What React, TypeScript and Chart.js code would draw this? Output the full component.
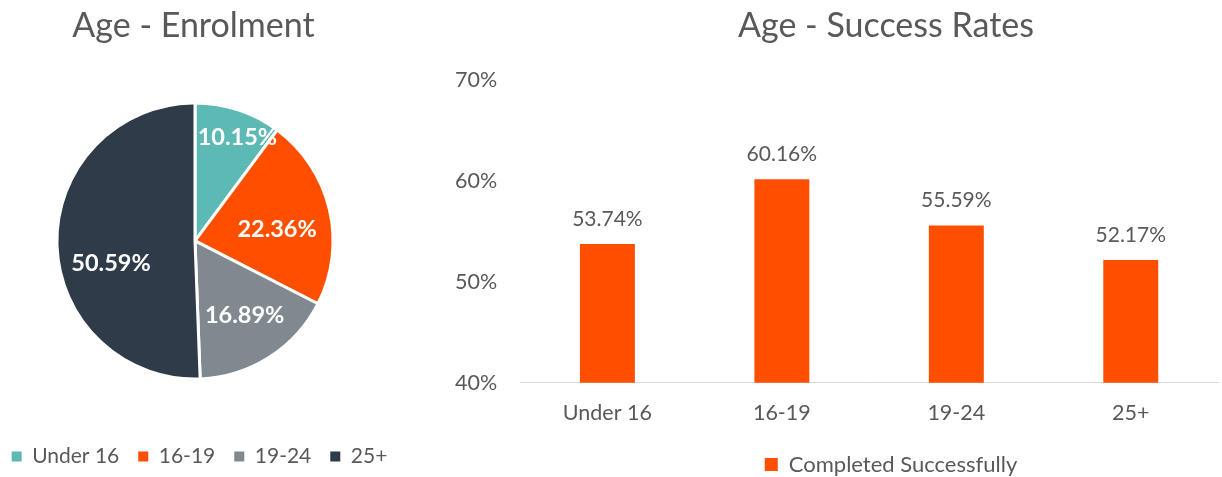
import React, { useEffect, useRef } from 'react';
import { Chart, registerables } from 'chart.js';

Chart.register(...registerables);

// ---- data ----
const ageGroups = ['Under 16', '16-19', '19-24', '25+'];
const enrolmentShare = [10.15, 22.36, 16.89, 50.59];
const successRates = [53.74, 60.16, 55.59, 52.17];
const successTicks = [40, 50, 60, 70];
const pieTitle = 'Age - Enrolment';
const barTitle = 'Age - Success Rates';
const barSeriesLabel = 'Completed Successfully';

// ---- style ----
const FONT = 'Lato, "Open Sans", sans-serif';
const textColor = '#595959';
const pieColors = ['#5CB9B3', '#FE4F00', '#7F898F', '#2F3B48'];
const barColor = '#FE4F00';
const pieLabelRadius = [0.81, 0.6, 0.65, 0.63];
const pieLabelAngleShift = [4, 5.5, -1, -14];

Chart.defaults.font.family = FONT;

const centerBoxesPlugin = {
  id: 'centerBoxes',
  afterLayout(chart: any, _args: any, opts: any) {
    const move = (box: any, cx: number | undefined) => {
      if (!box || cx === undefined) return;
      const w = box.right - box.left;
      box.left = cx - w / 2;
      box.right = cx + w / 2;
    };
    move(chart.titleBlock, opts.titleX);
    move(chart.legend, opts.legendX);
  },
};

const pieLabelPlugin = {
  id: 'pieLabels',
  afterDatasetsDraw(chart: any) {
    const meta = chart.getDatasetMeta(0);
    const ctx = chart.ctx;
    ctx.save();
    ctx.font = `bold 23.5px ${FONT}`;
    ctx.fillStyle = '#ffffff';
    ctx.textAlign = 'center';
    ctx.textBaseline = 'middle';
    meta.data.forEach((arc: any, i: number) => {
      const { x, y, startAngle, endAngle, outerRadius } = arc.getProps(
        ['x', 'y', 'startAngle', 'endAngle', 'outerRadius'],
        true
      );
      const mid = (startAngle + endAngle) / 2 + (pieLabelAngleShift[i] * Math.PI) / 180;
      const r = outerRadius * pieLabelRadius[i];
      ctx.fillText(enrolmentShare[i].toFixed(2) + '%', x + Math.cos(mid) * r, y + Math.sin(mid) * r);
    });
    ctx.restore();
  },
};

const barValuePlugin = {
  id: 'barValues',
  afterDatasetsDraw(chart: any) {
    const meta = chart.getDatasetMeta(0);
    const ctx = chart.ctx;
    ctx.save();
    ctx.font = `21px ${FONT}`;
    ctx.fillStyle = textColor;
    ctx.textAlign = 'center';
    ctx.textBaseline = 'middle';
    meta.data.forEach((bar: any, i: number) => {
      ctx.fillText(successRates[i].toFixed(2) + '%', bar.x, bar.y - 25);
    });
    ctx.restore();
  },
};

function PieChart() {
  const ref = useRef<HTMLCanvasElement>(null);
  useEffect(() => {
    const chart = new Chart(ref.current as HTMLCanvasElement, {
      type: 'pie',
      data: {
        labels: ageGroups,
        datasets: [
          {
            data: enrolmentShare,
            backgroundColor: pieColors,
            borderColor: '#ffffff',
            borderWidth: 3,
          },
        ],
      },
      options: {
        responsive: false,
        animation: false,
        layout: { padding: { bottom: 0 } },
        plugins: {
          title: {
            display: true,
            text: pieTitle,
            color: textColor,
            font: { family: FONT, size: 34, weight: 'normal' },
            padding: { top: 5.6, bottom: 55 },
          },
          legend: {
            position: 'bottom',
            labels: {
              boxWidth: 10,
              boxHeight: 10,
              color: textColor,
              font: { family: FONT, size: 21 },
              padding: 19,
              generateLabels: (c: any) =>
                (Chart as any).overrides.pie.plugins.legend.labels
                  .generateLabels(c)
                  .map((l: any) => ({ ...l, lineWidth: 0, strokeStyle: 'rgba(0,0,0,0)' })),
            },
            title: { display: true, text: '', font: { size: 12 }, padding: { top: 32.1, bottom: 0 } },
          },
          tooltip: { enabled: false },
          centerBoxes: { titleX: 238.5, legendX: 244.5 },
        } as any,
      },
      plugins: [pieLabelPlugin, centerBoxesPlugin],
    });
    return () => chart.destroy();
  }, []);
  return (
    <canvas
      ref={ref}
      width={480}
      height={477}
      style={{ position: 'absolute', left: -45, top: 0, width: 480, height: 477 }}
    />
  );
}

function BarChart() {
  const ref = useRef<HTMLCanvasElement>(null);
  useEffect(() => {
    const chart = new Chart(ref.current as HTMLCanvasElement, {
      type: 'bar',
      data: {
        labels: ageGroups,
        datasets: [
          {
            label: barSeriesLabel,
            data: successRates,
            backgroundColor: barColor,
            barPercentage: 0.315,
            categoryPercentage: 1,
          },
        ],
      },
      options: {
        responsive: false,
        animation: false,
        layout: { padding: { left: 12, right: 4, bottom: 4.5 } },
        scales: {
          x: {
            grid: { display: false, drawTicks: false },
            border: { display: true, color: '#D9D9D9', width: 1 },
            ticks: { color: textColor, font: { family: FONT, size: 21.5 }, padding: 17 },
          },
          y: {
            min: 40,
            max: 70,
            grid: { display: false, drawTicks: false },
            border: { display: false },
            afterBuildTicks: (s: any) => {
              s.ticks = successTicks.map((v) => ({ value: v }));
            },
            ticks: {
              color: textColor,
              font: { family: FONT, size: 21.5 },
              padding: 23,
              callback: (v: any) => v + '%',
            },
          },
        },
        plugins: {
          title: {
            display: true,
            text: barTitle,
            color: textColor,
            font: { family: FONT, size: 34, weight: 'normal' },
            padding: { top: 5.6, bottom: 33.6 },
          },
          legend: {
            position: 'bottom',
            labels: {
              boxWidth: 13,
              boxHeight: 13,
              color: textColor,
              font: { family: FONT, size: 22 },
              padding: 11,
            },
          },
          tooltip: { enabled: false },
          centerBoxes: { titleX: 466, legendX: 471 },
        } as any,
      },
      plugins: [barValuePlugin, centerBoxesPlugin],
    });
    return () => chart.destroy();
  }, []);
  return (
    <canvas
      ref={ref}
      width={802}
      height={490}
      style={{ position: 'absolute', left: 420, top: 0, width: 802, height: 490 }}
    />
  );
}

export default function App() {
  return (
    <div
      style={{
        position: 'absolute',
        left: 0,
        top: 0,
        width: 1222,
        height: 477,
        overflow: 'hidden',
        background: '#ffffff',
      }}
    >
      <PieChart />
      <BarChart />
    </div>
  );
}
